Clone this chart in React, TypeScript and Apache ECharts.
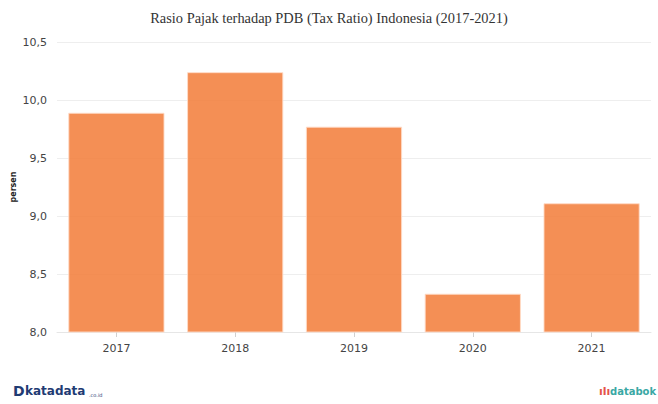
import React, { useEffect, useRef } from "react";
import * as echarts from "echarts";

const categories = ["2017", "2018", "2019", "2020", "2021"];
const taxRatio = [9.89, 10.24, 9.77, 8.33, 9.11];
const yTicks = [8.0, 8.5, 9.0, 9.5, 10.0, 10.5];

export default function App() {
  const ref = useRef<HTMLDivElement>(null);
  useEffect(() => {
    const chart = echarts.init(ref.current!, null, { renderer: "svg" });
    chart.setOption({
      animation: false,
      backgroundColor: "#ffffff",
      title: {
        text: "Rasio Pajak terhadap PDB (Tax Ratio) Indonesia (2017-2021)",
        left: "center",
        top: 6,
        textStyle: {
          fontFamily: "Liberation Serif, Times New Roman, serif",
          fontWeight: "normal",
          fontSize: 14.4,
          color: "#333333",
        },
      },
      grid: { left: 57, right: 7, top: 42, bottom: 72, outerBoundsMode: "none", containLabel: false },
      xAxis: {
        type: "category",
        data: categories,
        axisLine: { lineStyle: { color: "#e6e6e6" } },
        axisTick: { show: true, alignWithLabel: true, length: 5, lineStyle: { color: "#d0d0d0" } },
        axisLabel: { color: "#444", fontFamily: "DejaVu Sans, sans-serif", fontSize: 11, margin: 11 },
      },
      yAxis: {
        type: "value",
        min: yTicks[0],
        max: yTicks[yTicks.length - 1],
        interval: 0.5,
        name: "persen",
        nameLocation: "middle",
        nameGap: 40,
        nameMoveOverlap: false,
        nameRotate: 90,
        nameTextStyle: { fontSize: 8, fontWeight: "bold", color: "#222", fontFamily: "DejaVu Sans, sans-serif" },
        axisLine: { show: false },
        axisTick: { show: false },
        splitLine: { lineStyle: { color: "#eeeeee" } },
        axisLabel: {
          color: "#444",
          fontFamily: "DejaVu Sans, sans-serif",
          fontSize: 11,
          margin: 10,
          formatter: (v: number) => v.toFixed(1).replace(".", ","),
        },
      },
      series: [
        {
          type: "bar",
          data: taxRatio,
          barWidth: "81%",
          itemStyle: {
            color: "rgba(242,128,62,0.88)",
            borderColor: "rgba(255,220,200,0.9)",
            borderWidth: 1,
          },
        },
      ],
      graphic: [
        {
          type: "text",
          left: 13,
          top: 384,
          style: { text: "D", font: "bold 14px DejaVu Sans, sans-serif", fill: "#1f3b73" },
        },
        {
          type: "text",
          left: 25,
          top: 385,
          style: { text: "katadata", font: "bold 12px DejaVu Sans, sans-serif", fill: "#1f3b73" },
        },
        {
          type: "text",
          left: 89,
          top: 392,
          style: { text: ".co.id", font: "5px DejaVu Sans, sans-serif", fill: "#1f3b73" },
        },
        {
          type: "text",
          left: 599,
          top: 386,
          style: { text: "ılı", font: "bold 11px DejaVu Sans, sans-serif", fill: "#e5534b" },
        },
        {
          type: "text",
          left: 610,
          top: 386,
          style: { text: "databok", font: "bold 10px DejaVu Sans, sans-serif", fill: "#3aa8a4" },
        },
      ],
    });
    return () => chart.dispose();
  }, []);
  return <div ref={ref} style={{ width: 658, height: 404, position: "absolute", left: 0, top: 0 }} />;
}
